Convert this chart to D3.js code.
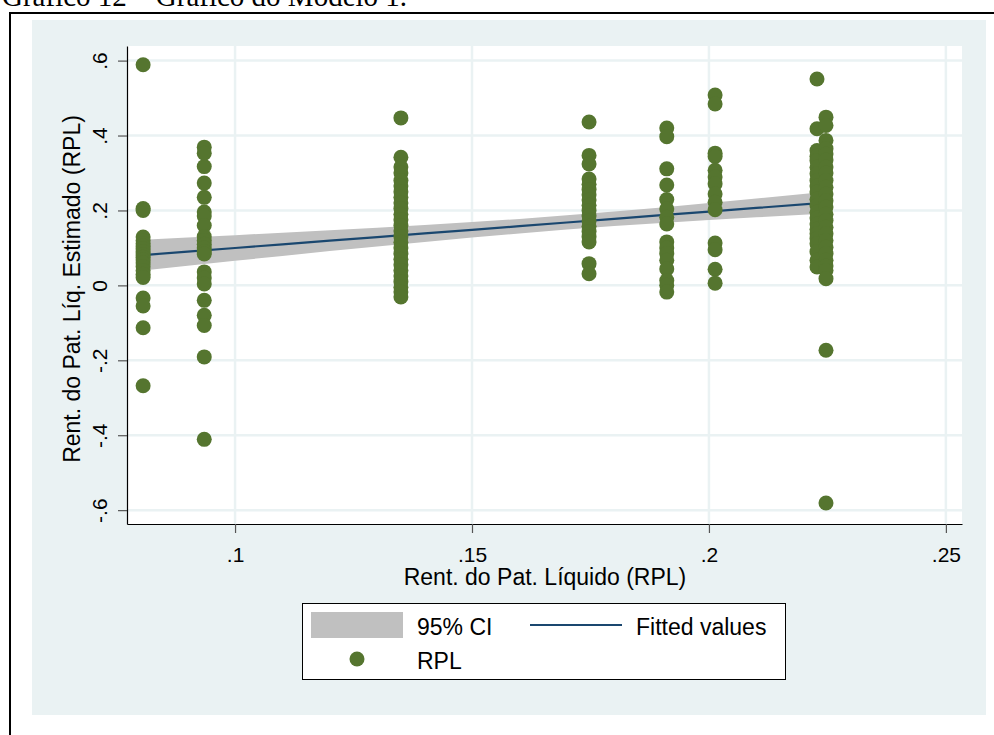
<!DOCTYPE html>
<html>
<head>
<meta charset="utf-8">
<script src="https://cdn.jsdelivr.net/npm/d3@7"></script>
<style>
  html, body { margin: 0; padding: 0; background: #ffffff; }
  svg { display: block; }
</style>
</head>
<body>
<script>
// ---------------- DATA ----------------
const titleText = "Gráfico 12 – Gráfico do Modelo 1.";
const xAxisTitle = "Rent. do Pat. Líquido (RPL)";
const yAxisTitle = "Rent. do Pat. Líq. Estimado (RPL)";
const legendLabels = ["95% CI", "Fitted values", "RPL"];

const xTicks = [0.1, 0.15, 0.2, 0.25];
const xTickLabels = [".1", ".15", ".2", ".25"];
const yTicks = [-0.6, -0.4, -0.2, 0, 0.2, 0.4, 0.6];
const yTickLabels = ["-.6", "-.4", "-.2", "0", ".2", ".4", ".6"];

// x positions of the groups of observations (RPL)
const groupX = [0.0806, 0.0935, 0.135, 0.1747, 0.1911, 0.2013, 0.2228, 0.2247];
// estimated RPL per group
const group1 = [0.589, 0.205, 0.200, 0.129, 0.120, 0.112, 0.105, 0.098, 0.090, 0.082, 0.075, 0.068, 0.060, 0.050, 0.040, 0.030, 0.021, -0.034, -0.055, -0.113, -0.268];
const group2 = [0.369, 0.353, 0.317, 0.273, 0.235, 0.196, 0.185, 0.160, 0.130, 0.120, 0.110, 0.100, 0.090, 0.084, 0.036, 0.020, 0.004, -0.040, -0.080, -0.107, -0.191, -0.411];
const group3 = [0.447, 0.342, 0.316, 0.300, 0.280, 0.265, 0.250, 0.235, 0.220, 0.205, 0.190, 0.175, 0.160, 0.145, 0.130, 0.115, 0.100, 0.085, 0.070, 0.055, 0.040, 0.025, 0.010, -0.005, -0.018, -0.031];
const group4 = [0.436, 0.347, 0.324, 0.284, 0.270, 0.256, 0.242, 0.228, 0.214, 0.200, 0.186, 0.172, 0.158, 0.144, 0.130, 0.116, 0.058, 0.031];
const group5 = [0.420, 0.397, 0.311, 0.268, 0.229, 0.204, 0.182, 0.164, 0.116, 0.100, 0.085, 0.067, 0.044, 0.013, 0.000, -0.018];
const group6 = [0.508, 0.484, 0.353, 0.344, 0.307, 0.289, 0.271, 0.244, 0.222, 0.202, 0.113, 0.095, 0.043, 0.006];
const group7 = [0.551, 0.418, 0.360, 0.345, 0.333, 0.315, 0.298, 0.280, 0.265, 0.249, 0.230, 0.213, 0.195, 0.180, 0.164, 0.150, 0.138, 0.125, 0.111, 0.090, 0.067, 0.049];
const group8 = [0.449, 0.427, 0.387, 0.365, 0.351, 0.335, 0.316, 0.300, 0.280, 0.262, 0.244, 0.226, 0.209, 0.190, 0.173, 0.155, 0.138, 0.120, 0.102, 0.085, 0.067, 0.052, 0.040, 0.018, -0.173, -0.581];
const groupsY = [group1, group2, group3, group4, group5, group6, group7, group8];

// fitted values and 95% CI
const fitX    = [0.0806, 0.09, 0.10, 0.11, 0.12, 0.13, 0.14, 0.15, 0.16, 0.17, 0.18, 0.19, 0.20, 0.21, 0.2247];
const fitY    = [0.0810, 0.0901, 0.0998, 0.1096, 0.1193, 0.1290, 0.1387, 0.1484, 0.1581, 0.1679, 0.1776, 0.1873, 0.1970, 0.2067, 0.2210];
const ciLow   = [0.0400, 0.0525, 0.0656, 0.0787, 0.0915, 0.1040, 0.1161, 0.1277, 0.1387, 0.1489, 0.1582, 0.1666, 0.1744, 0.1817, 0.1918];
const ciHigh  = [0.1220, 0.1277, 0.1340, 0.1405, 0.1471, 0.1540, 0.1613, 0.1691, 0.1775, 0.1869, 0.1970, 0.2080, 0.2196, 0.2317, 0.2502];

// ---------------- STYLE ----------------
const W = 994, H = 735;
const bgColor = "#EAF2F3";
const dotColor = "#55752F";
const lineColor = "#1A476F";
const ciColor = "#C0C0C0";
const sans = "'Liberation Sans', Arial, sans-serif";

const svg = d3.select("body").append("svg").attr("width", W).attr("height", H);

// title (cut at top)
svg.append("text").attr("x", 2).attr("y", 6)
  .attr("font-family", "'Liberation Serif', 'Times New Roman', serif")
  .attr("font-size", 29).attr("fill", "#000").text(titleText);

// outer frame
svg.append("rect").attr("x", 10).attr("y", 13).attr("width", 1000).attr("height", 800)
  .attr("fill", "none").attr("stroke", "#000").attr("stroke-width", 2);

// graph background
svg.append("rect").attr("x", 32).attr("y", 20).attr("width", 954).attr("height", 695)
  .attr("fill", bgColor);

const plot = { left: 127, right: 962, top: 46, bottom: 524 };
svg.append("rect").attr("x", plot.left).attr("y", plot.top)
  .attr("width", plot.right - plot.left).attr("height", plot.bottom - plot.top)
  .attr("fill", "#ffffff");

const x = d3.scaleLinear().domain([0.0772, 0.2534]).range([plot.left, plot.right]);
const y = d3.scaleLinear().domain([-0.637, 0.639]).range([plot.bottom, plot.top]);

// gridlines
const grid = svg.append("g");
grid.selectAll("line.h").data(yTicks).join("line")
  .attr("x1", plot.left).attr("x2", plot.right)
  .attr("y1", d => y(d)).attr("y2", d => y(d))
  .attr("stroke", bgColor).attr("stroke-width", 2.5);
grid.selectAll("line.v").data(xTicks).join("line")
  .attr("y1", plot.top).attr("y2", plot.bottom)
  .attr("x1", d => x(d)).attr("x2", d => x(d))
  .attr("stroke", bgColor).attr("stroke-width", 2.5);

// CI band
const fitData = fitX.map((xv, i) => ({ x: xv, y: fitY[i], lo: ciLow[i], hi: ciHigh[i] }));
svg.append("path").datum(fitData)
  .attr("d", d3.area().x(d => x(d.x)).y0(d => y(d.lo)).y1(d => y(d.hi)))
  .attr("fill", ciColor);

// fitted line
svg.append("path").datum(fitData)
  .attr("d", d3.line().x(d => x(d.x)).y(d => y(d.y)))
  .attr("fill", "none").attr("stroke", lineColor).attr("stroke-width", 2.2);

// scatter
const points = [];
groupsY.forEach((arr, gi) => arr.forEach(v => points.push({ x: groupX[gi], y: v })));
svg.append("g").selectAll("circle").data(points).join("circle")
  .attr("cx", d => x(d.x)).attr("cy", d => y(d.y)).attr("r", 7.5)
  .attr("fill", dotColor);

// axes
const yAxis = svg.append("g").attr("transform", `translate(${plot.left},0)`)
  .call(d3.axisLeft(y).tickValues(yTicks).tickSize(9).tickSizeOuter(0)
    .tickFormat((d, i) => yTickLabels[i]));
yAxis.select(".domain").attr("stroke", "#000").attr("stroke-width", 1.2);
yAxis.selectAll(".tick line").attr("stroke", "#555").attr("stroke-width", 1.2);
yAxis.selectAll(".tick text")
  .attr("x", null).attr("dy", null).attr("y", null)
  .attr("transform", "translate(-20,0) rotate(-90)")
  .attr("text-anchor", "middle")
  .attr("font-family", sans).attr("font-size", 21).attr("fill", "#000");

const xAxis = svg.append("g").attr("transform", `translate(0,${plot.bottom})`)
  .call(d3.axisBottom(x).tickValues(xTicks).tickSize(9).tickSizeOuter(0)
    .tickFormat((d, i) => xTickLabels[i]));
xAxis.select(".domain").attr("stroke", "#000").attr("stroke-width", 1.2);
xAxis.selectAll(".tick line").attr("stroke", "#555").attr("stroke-width", 1.2);
xAxis.selectAll(".tick text")
  .attr("y", 38).attr("dy", null)
  .attr("font-family", sans).attr("font-size", 21).attr("fill", "#000");

// axis titles
svg.append("text").attr("x", 545).attr("y", 585).attr("text-anchor", "middle")
  .attr("font-family", sans).attr("font-size", 23).attr("fill", "#000").text(xAxisTitle);
svg.append("text").attr("transform", "translate(80,289) rotate(-90)").attr("text-anchor", "middle")
  .attr("font-family", sans).attr("font-size", 23).attr("fill", "#000").text(yAxisTitle);

// legend
const lg = svg.append("g");
lg.append("rect").attr("x", 302.5).attr("y", 603.5).attr("width", 483).attr("height", 76)
  .attr("fill", "#fff").attr("stroke", "#000").attr("stroke-width", 1);
lg.append("rect").attr("x", 311).attr("y", 612).attr("width", 92).attr("height", 26).attr("fill", ciColor);
lg.append("text").attr("x", 417).attr("y", 635).attr("font-family", sans).attr("font-size", 23).text(legendLabels[0]);
lg.append("line").attr("x1", 530).attr("x2", 622).attr("y1", 625).attr("y2", 625)
  .attr("stroke", lineColor).attr("stroke-width", 2.2);
lg.append("text").attr("x", 636).attr("y", 635).attr("font-family", sans).attr("font-size", 23).text(legendLabels[1]);
lg.append("circle").attr("cx", 357).attr("cy", 659).attr("r", 7.5).attr("fill", dotColor);
lg.append("text").attr("x", 417).attr("y", 669).attr("font-family", sans).attr("font-size", 23).text(legendLabels[2]);
</script>
</body>
</html>
